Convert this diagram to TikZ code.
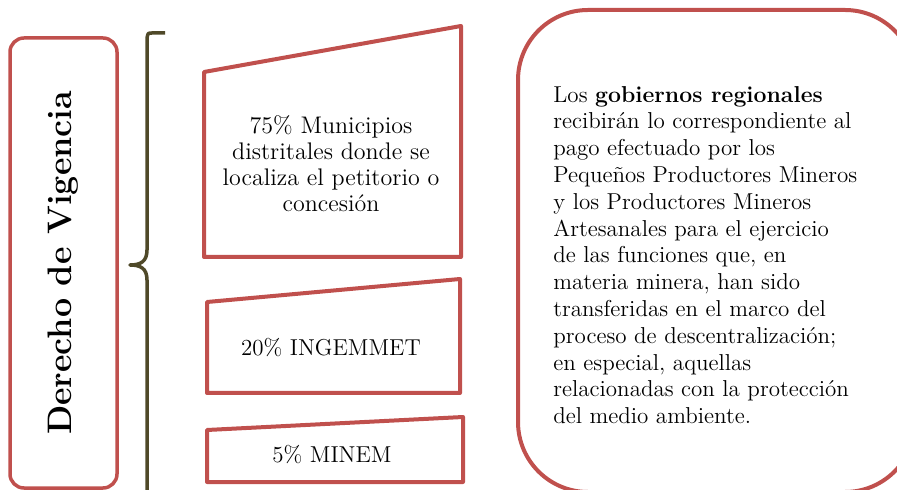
\documentclass[tikz,border=0pt]{standalone}
\usepackage{fontspec}
\usetikzlibrary{positioning}
\definecolor{boxred}{RGB}{192,80,77}
\definecolor{bracecol}{RGB}{79,73,41}

\begin{document}
\begin{tikzpicture}[%
        x=0.5pt, y=-0.5pt,
        line join=round,
        sidebox/.style={%
          draw=boxred,
          line width=1.75pt,
          rounded corners=7pt,
          rotate=90,
          minimum width=225pt,
          minimum height=53.5pt,
          font=\fontsize{17}{20}\selectfont\bfseries
        },
        trapbox/.style={draw=boxred, line width=2pt},
        boxtext/.style={align=center, font=\fontsize{11.5}{13}\selectfont},
        regbox/.style={%
          draw=boxred,
          line width=2pt,
          rounded corners=35pt,
          minimum width=198.5pt,
          minimum height=241pt
        },
        regtext/.style={align=left, inner sep=0pt, font=\fontsize{11.5}{13.4}\selectfont}
      ]
      \useasboundingbox (0,0) rectangle (897,490);
      \clip (0,0) rectangle (897,490);
      % left label
      \node[sidebox] (vig) at (63.5,263) {Derecho de Vigencia};
      % brace
      \draw[bracecol, line width=1.75pt]
        (165,33) -- (152,33) .. controls (148,33) .. (147,38)
        -- (147,250) .. controls (147,262) and (140,265) .. (130,265)
        .. controls (140,265) and (147,268) .. (147,280) -- (147,500);
      % three shares
      \draw[trapbox] (204,72) -- (461,26) -- (461,257) -- (204,257) -- cycle;
      \node[boxtext, font=\fontsize{12}{13}\selectfont] (mun) at (331,164) {75\% Municipios\\distritales donde se\\localiza el petitorio o\\concesión};
      \draw[trapbox] (207,302) -- (460,279) -- (460,393) -- (207,393) -- cycle;
      \node[boxtext] (ing) at (331,348) {20\% INGEMMET};
      \draw[trapbox] (207,430) -- (463,417) -- (463,482) -- (207,482) -- cycle;
      \node[boxtext] (min) at (332,455) {5\% MINEM};
      % regional governments
      \node[regbox] (reg) at (716.5,251) {};
      \node[regtext, anchor=west] (gob) at (553,255) {Los \textbf{gobiernos regionales}\\
        recibirán lo correspondiente al\\
        pago efectuado por los\\
        Pequeños Productores Mineros\\
        y los Productores Mineros\\
        Artesanales para el ejercicio\\
        de las funciones que, en\\
        materia minera, han sido\\
        transferidas en el marco del\\
        proceso de descentralización;\\
        en especial, aquellas\\
        relacionadas con la protección\\
        del medio ambiente.};
  \end{tikzpicture}
\end{document}
